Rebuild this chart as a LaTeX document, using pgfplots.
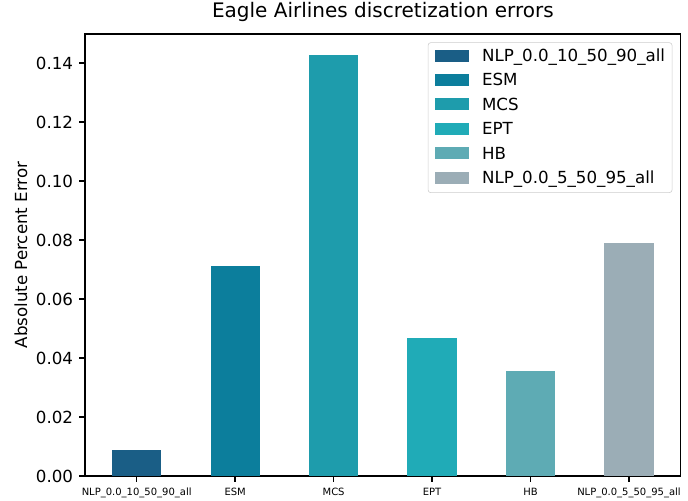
\documentclass[border=0pt]{standalone}
\usepackage{pgfplots}
\pgfplotsset{compat=1.18}
\usepackage{fontspec}
\setmainfont{DejaVu Sans}
\definecolor{c1}{HTML}{1A5E86}
\definecolor{c2}{HTML}{0C7E9C}
\definecolor{c3}{HTML}{1E9CAC}
\definecolor{c4}{HTML}{20ABB7}
\definecolor{c5}{HTML}{5EABB4}
\definecolor{c6}{HTML}{9BADB6}
\begin{document}
\begin{tikzpicture}
\useasboundingbox (0,0) rectangle (495.36pt,360pt);
\begin{axis}[
  at={(61.2pt,17.3pt)}, anchor=south west,
  scale only axis, width=428.9pt, height=318.2pt,
  xmin=-0.525, xmax=5.525, ymin=0, ymax=0.1498,
  ybar, bar width=0.5, bar shift=0pt,
  axis line style={line width=0.96pt},
  tick align=outside, tick pos=left,
  major tick length=4.2pt,
  every tick/.style={black, line width=0.96pt},
  xtick={0,1,2,3,4,5},
  xticklabels={NLP\_0.0\_10\_50\_90\_all, ESM, MCS, EPT, HB, NLP\_0.0\_5\_50\_95\_all},
  xticklabel style={font=\fontsize{7.2}{8.6}\selectfont, inner sep=0pt, yshift=-4.2pt},
  ytick={0,0.02,0.04,0.06,0.08,0.10,0.12,0.14},
  yticklabel style={font=\fontsize{12}{14}\selectfont, inner sep=0pt, xshift=-4.2pt,
    /pgf/number format/.cd, fixed, fixed zerofill, precision=2, assume math mode=true},
  scaled y ticks=false,
  ylabel={Absolute Percent Error},
  ylabel style={font=\fontsize{12}{14}\selectfont, at={(axis description cs:-0.1075,0.5)}, anchor=center},
  title={Eagle Airlines discretization errors},
  title style={font=\fontsize{14.4}{17}\selectfont, at={(axis description cs:0.5,1)}, anchor=base, yshift=5.8pt, inner sep=0pt},
  legend cell align=left,
  legend image code/.code={\fill[#1, sharp corners] (0pt,0pt) rectangle (24.5pt,8.6pt);},
  legend style={at={(1,1)}, anchor=north east, xshift=-6pt, yshift=-6pt,
    draw=black!20, rounded corners=2pt, fill=white,
    font=\fontsize{12}{14}\selectfont, inner xsep=5pt, inner ysep=4pt,
    row sep=5.6pt, column sep=0pt,
    nodes={inner sep=0pt, text height=9.6pt, text depth=2.4pt, anchor=base west},
    /tikz/every odd column/.append style={column sep=9.4pt}},
]
\addplot[fill=c1, draw=none] coordinates {(0,0.0088)};
\addlegendentry{NLP\_0.0\_10\_50\_90\_all}
\addplot[fill=c2, draw=none] coordinates {(1,0.0712)};
\addlegendentry{ESM}
\addplot[fill=c3, draw=none] coordinates {(2,0.1427)};
\addlegendentry{MCS}
\addplot[fill=c4, draw=none] coordinates {(3,0.0468)};
\addlegendentry{EPT}
\addplot[fill=c5, draw=none] coordinates {(4,0.0356)};
\addlegendentry{HB}
\addplot[fill=c6, draw=none] coordinates {(5,0.0790)};
\addlegendentry{NLP\_0.0\_5\_50\_95\_all}
\end{axis}
\end{tikzpicture}
\end{document}
